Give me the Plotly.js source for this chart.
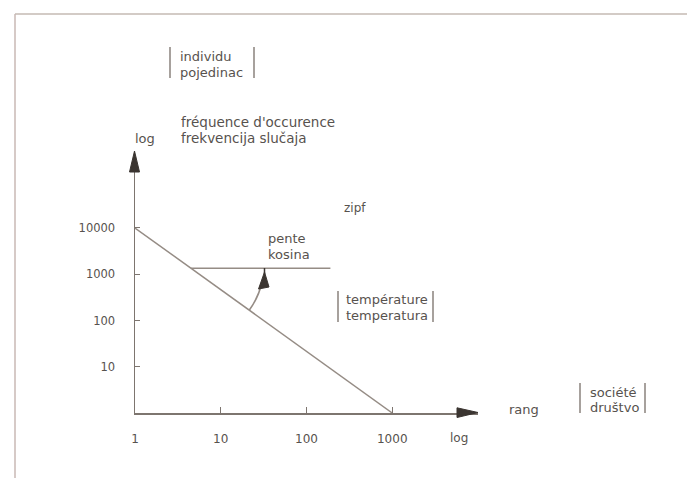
<!DOCTYPE html>
<html>
<head>
<meta charset="utf-8">
<script src="https://cdn.plot.ly/plotly-3.0.1.min.js"></script>
<style>html,body{margin:0;padding:0;background:#fff;}#chart{width:687px;height:478px;}</style>
</head>
<body>
<div id="chart"></div>
<script>
// ---- data ----
const rank = [1, 1000];            // rang (log)
const frequency = [10000, 1];      // fréquence d'occurence (log)
const slopeX = [4.5, 190];         // pente / kosina reference line
const slopeY = [1350, 1350];
const xTickVals = [1, 10, 100, 1000];
const xTickText = ["1", "10", "100", "1000"];
const yTickVals = [1, 10, 100, 1000, 10000];
const yTickText = ["", "10", "100", "1000", "10000"];

// ---- layout helpers (pixel -> paper) ----
const L = 135, R = 478, T = 152, B = 413, W = 687, H = 478;
const X = p => (p - L) / (R - L);
const Y = p => (B - p) / (B - T);

const lineCol = "#958c85";
const axisCol = "#7d756f";
const headCol = "#3b3531";
const textCol = "#57524e";
const FONT = "DejaVu Sans, sans-serif";

function txt(text, px, py, anchor, size) {
  return {text: text, x: X(px), y: Y(py), xref: "paper", yref: "paper",
    xanchor: anchor || "left", yanchor: "middle", showarrow: false,
    font: {family: FONT, size: size || 13, color: textCol}};
}
function seg(x0, y0, x1, y1, col, w) {
  return {type: "line", xref: "paper", yref: "paper", x0: X(x0), y0: Y(y0), x1: X(x1), y1: Y(y1),
    line: {color: col, width: w}};
}
function path(pts, fill) {
  let d = "M" + pts.map(p => X(p[0]) + "," + Y(p[1])).join(" L") + " Z";
  return {type: "path", xref: "paper", yref: "paper", path: d, fillcolor: fill, line: {color: fill, width: 1}};
}

const traces = [
  {x: rank, y: frequency, type: "scatter", mode: "lines", line: {color: lineCol, width: 1.5}, hoverinfo: "skip"},
  {x: slopeX, y: slopeY, type: "scatter", mode: "lines", line: {color: lineCol, width: 1.5}, hoverinfo: "skip"}
];

const shapes = [
  // frame
  seg(15, 14, W, 14, "#c4bab3", 1.5),
  seg(15, 14, 15, H, "#c9b8b4", 1.5),
  // bars around labels
  seg(170, 47, 170, 78, "#8a827c", 1.5), seg(254, 47, 254, 78, "#8a827c", 1.5),
  seg(338, 291, 338, 322, "#8a827c", 1.5), seg(433, 291, 433, 322, "#8a827c", 1.5),
  seg(580, 383, 580, 413, "#8a827c", 1.5), seg(645, 383, 645, 413, "#8a827c", 1.5),
  // angle arc
  {type: "path", xref: "paper", yref: "paper",
   path: "M" + X(249.2) + "," + Y(310.3) + " Q" + X(258.7) + "," + Y(297.2) + " " + X(262) + "," + Y(282),
   line: {color: lineCol, width: 1.6}},
  seg(264.5, 268, 264.5, 274, headCol, 1.5),
  path([[264.5, 272], [258.5, 289], [269, 287]], headCol),
  // axis arrow heads
  path([[134.5, 151], [129.5, 172], [139.5, 172]], headCol),
  path([[478, 412.5], [457, 407.8], [457, 417.5]], headCol)
];

const annotations = [
  txt("individu", 178, 56), txt("pojedinac", 178, 72),
  txt("fréquence d'occurence", 179, 122, "left", 13.5), txt("frekvencija slučaja", 179, 138, "left", 13.5),
  txt("log", 145, 138, "center"),
  txt("zipf", 355, 208, "center", 12),
  txt("pente", 266, 238), txt("kosina", 266, 254),
  txt("température", 344, 299), txt("temperatura", 344, 315),
  txt("rang", 507, 409),
  txt("société", 588, 392), txt("društvo", 588, 407),
  txt("log", 459, 438, "center", 12)
];

const layout = {
  width: W, height: H,
  margin: {l: L, r: W - R, t: T, b: H - B, pad: 0},
  paper_bgcolor: "#ffffff", plot_bgcolor: "#ffffff",
  showlegend: false,
  xaxis: {type: "log", range: [0, 4], showgrid: false, zeroline: false,
    showline: true, linecolor: axisCol, linewidth: 1.5,
    ticks: "inside", ticklen: 6, tickcolor: axisCol, tickwidth: 1,
    tickvals: xTickVals, ticktext: xTickText, ticklabelstandoff: 14,
    tickfont: {family: FONT, size: 12, color: textCol}, fixedrange: true},
  yaxis: {type: "log", range: [0, 5.643], showgrid: false, zeroline: false,
    showline: true, linecolor: axisCol, linewidth: 1.5,
    ticks: "inside", ticklen: 5, tickcolor: axisCol, tickwidth: 1,
    tickvals: yTickVals, ticktext: yTickText, ticklabelstandoff: 16,
    tickfont: {family: FONT, size: 11.5, color: textCol}, fixedrange: true},
  shapes: shapes,
  annotations: annotations
};

Plotly.newPlot("chart", traces, layout, {displayModeBar: false, staticPlot: true});
</script>
</body>
</html>
